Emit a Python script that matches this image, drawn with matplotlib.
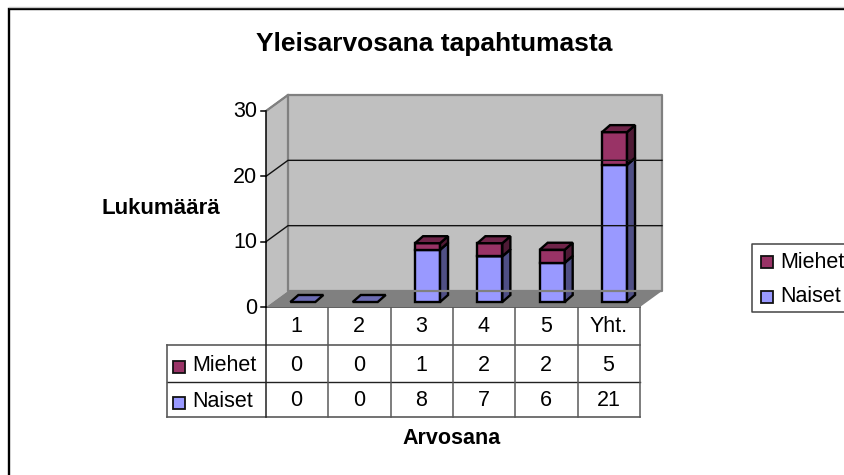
import matplotlib
matplotlib.use("Agg")
import matplotlib.pyplot as plt
from matplotlib.patches import Polygon, Rectangle

plt.rcParams["font.family"] = ["Liberation Sans", "DejaVu Sans"]

categories = ["1", "2", "3", "4", "5", "Yht."]
miehet = [0, 0, 1, 2, 2, 5]
naiset = [0, 0, 8, 7, 6, 21]
y_ticks = [0, 10, 20, 30]

W, H = 845, 475
X0, X1 = 266, 640     # front edge of the floor, pixels
Y0, Y30 = 307, 111
FS = 15.5

fig = plt.figure(figsize=(W / 100, H / 100), dpi=100)

# overlay in pixel coords for frame, table and legend
page = fig.add_axes([0, 0, 1, 1])
page.set_xlim(0, W)
page.set_ylim(H, 0)
page.axis("off")

ax = fig.add_axes([X0 / W, 1 - Y0 / H, (X1 - X0) / W, (Y0 - Y30) / H])
ax.set_xlim(0, len(categories))
ax.set_ylim(0, 30)
ax.axis("off")

px_x = len(categories) / (X1 - X0)
px_y = 30 / (Y0 - Y30)
wall_dx, wall_dy = 22 * px_x, 16 * px_y
bar_dx, bar_dy = 8 * px_x, 7 * px_y
bar_w = 25 * px_x
bar_shift = 5.7 * px_x
bar_base = 5 * px_y

C_WALL = "#C0C0C0"
C_FLOOR = "#808080"
C_N = ("#9999FF", "#4F4F85", "#6B6BB3")
C_M = ("#993366", "#4F1A35", "#6F2449")
n = len(categories)


def poly(pts, fc, ec="none", lw=0.0):
    ax.add_patch(Polygon(pts, closed=True, facecolor=fc, edgecolor=ec, linewidth=lw,
                         clip_on=False, joinstyle="miter"))


# walls and floor
poly([(0, 0), (wall_dx, wall_dy), (n + wall_dx, wall_dy), (n + wall_dx, 30 + wall_dy),
      (wall_dx, 30 + wall_dy), (0, 30)], C_WALL)
poly([(0, 0), (wall_dx, wall_dy), (n + wall_dx, wall_dy), (n, 0)], C_FLOOR)
ax.plot([0, wall_dx, n + wall_dx, n + wall_dx, wall_dx, wall_dx],
        [30, 30 + wall_dy, 30 + wall_dy, wall_dy, wall_dy, 30 + wall_dy],
        color="#808080", lw=1.6, clip_on=False)
for t in y_ticks[1:-1]:
    ax.plot([0, wall_dx, n + wall_dx], [t, t + wall_dy, t + wall_dy], color="#111111", lw=1.0, clip_on=False)

# axis line and ticks
ax.plot([0, 0], [0, 30], color="black", lw=1.1, clip_on=False)
ax.plot([0, wall_dx], [30, 30 + wall_dy], color="#808080", lw=1.2, clip_on=False)
for t in y_ticks:
    ax.plot([-5 * px_x, 0], [t, t], color="black", lw=1.1, clip_on=False)
    ax.text(-8.5 * px_x, t - 1 * px_y, str(t), ha="right", va="center", fontsize=FS, color="black")


def box(x, low, high, colors):
    l, r = x, x + bar_w
    if high > low:
        poly([(l, low), (r, low), (r, high), (l, high)], colors[0], "black", 1.7)
        poly([(r, low), (r + bar_dx, low + bar_dy), (r + bar_dx, high + bar_dy), (r, high)],
             colors[1], "black", 1.7)
    poly([(l, high), (r, high), (r + bar_dx, high + bar_dy), (l + bar_dx, high + bar_dy)],
         colors[2], "black", 1.7)


for i in range(n):
    left = i + 0.5 - bar_w / 2 + bar_shift
    base = bar_base
    box(left, base, base + naiset[i], C_N)
    if miehet[i] > 0:
        box(left, base + naiset[i], base + naiset[i] + miehet[i], C_M)

# outer frame
page.plot([9.3, 9.3, W + 5], [H + 5, 9, 9], color="black", lw=1.7, solid_joinstyle="miter")
page.plot([9, W + 5], [7.3, 7.3], color="#C8C8C8", lw=1)

# data table
rows_y = [Y0, 344.5, 382, 416.7]
cols_x = [X0 + (X1 - X0) * i / n for i in range(n + 1)]
LEFT = 166.7
GRAY = "#5A5A5A"
page.plot([X0, X1], [rows_y[0]] * 2, color="#333333", lw=1.1)
page.plot([LEFT, X1], [rows_y[1]] * 2, color=GRAY, lw=1.2)
page.plot([LEFT, X1], [rows_y[2]] * 2, color="#222222", lw=1.0)
page.plot([LEFT, X1], [rows_y[3]] * 2, color=GRAY, lw=1.2)
page.plot([LEFT, LEFT], [rows_y[1], rows_y[3]], color=GRAY, lw=1.2)
for j, x in enumerate(cols_x):
    page.plot([x, x], [rows_y[0], rows_y[3]], color="#222222" if j == 0 else GRAY, lw=1.1)

for i, name in enumerate(categories):
    cx = (cols_x[i] + cols_x[i + 1]) / 2 - 0.5
    page.text(cx, 326.5, name, ha="center", va="center", fontsize=FS)
    page.text(cx, 365.5, str(miehet[i]), ha="center", va="center", fontsize=FS)
    page.text(cx, 401, str(naiset[i]), ha="center", va="center", fontsize=FS)


def swatch(x, y, color):
    page.add_patch(Rectangle((x, y), 12, 12, facecolor=color, edgecolor="#111111", linewidth=1.3))


swatch(173, 361, C_M[0])
page.text(192, 365.5, "Miehet", ha="left", va="center", fontsize=FS)
swatch(173, 397, C_N[0])
page.text(192, 401.5, "Naiset", ha="left", va="center", fontsize=FS)

# legend, runs off the right edge
page.plot([W + 5, 752.3, 752.3, W + 5], [243.5, 243.5, 312.3, 312.3], color="#444444", lw=1.1)
swatch(761, 256, C_M[0])
page.text(780, 262, "Miehet", ha="left", va="center", fontsize=FS)
swatch(761, 291, C_N[0])
page.text(780, 296.5, "Naiset", ha="left", va="center", fontsize=FS)

# titles
page.text(434, 43.5, "Yleisarvosana tapahtumasta", ha="center", va="center", fontsize=19, fontweight="bold")
page.text(161, 209, "Lukumäärä", ha="center", va="center", fontsize=16, fontweight="bold")
page.text(452, 439, "Arvosana", ha="center", va="center", fontsize=15.5, fontweight="bold")

fig.savefig("out.png", dpi=100)
